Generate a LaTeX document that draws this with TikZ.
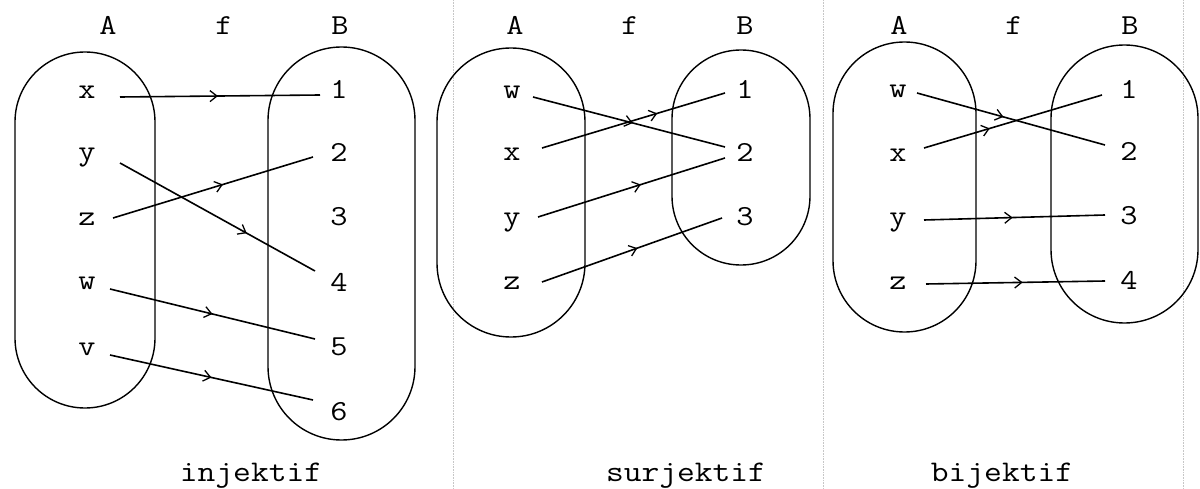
\documentclass[tikz,border=0pt]{standalone}
\usepackage{fontspec}
\newfontfamily\cour{Latin Modern Mono}[FakeStretch=1.15]
\usetikzlibrary{arrows.meta,decorations.markings}
\begin{document}
\begin{tikzpicture}[x=1pt,y=-1pt,
  lbl/.style={font=\cour\fontsize{29}{31}\selectfont, inner sep=0pt, text height=12pt, text depth=0pt},
  caption/.style={font=\cour\fontsize{30}{32}\selectfont, anchor=base, inner sep=0pt},
  setline/.style={line width=1.4pt},
  guide/.style={gray!45, densely dotted, line width=0.6pt},
  conn/.style={line width=1.6pt, postaction={decorate},
    decoration={markings, mark=at position #1 with {\arrow{Straight Barb[length=7pt,width=11pt,line width=1.3pt]}}}}
]
\useasboundingbox (0,0) rectangle (1200,489);

% faint page guides
\draw[guide] (453,0) -- (453,489);
\draw[guide] (823,0) -- (823,489);
\draw[guide] (1183,0) -- (1183,489);

% ---------- panel 1: injektif ----------
\draw[setline, rounded corners=69.9] (15,52) rectangle (155,408);
\draw[setline, rounded corners=73.4] (268,47) rectangle (415,440);
\node[lbl] (A1) at (108,29) {A};
\node[lbl] (f1) at (224,29) {f};
\node[lbl] (B1) at (340,29) {B};
\node[lbl] (p1x) at (87,93) {x};
\node[lbl] (p1y) at (87,155) {y};
\node[lbl] (p1z) at (87,220) {z};
\node[lbl] (p1w) at (87,284) {w};
\node[lbl] (p1v) at (87,349) {v};
\node[lbl] (p1n1) at (339,93) {1};
\node[lbl] (p1n2) at (339,156) {2};
\node[lbl] (p1n3) at (339,220) {3};
\node[lbl] (p1n4) at (339,285) {4};
\node[lbl] (p1n5) at (339,349) {5};
\node[lbl] (p1n6) at (339,414) {6};
\node[caption] (c1) at (251,481) {injektif};
\draw[conn=0.49] ([shift={(33,4)}]p1x.center) -- ([shift={(-19,2)}]p1n1.center);
\draw[conn=0.65] ([shift={(33,8)}]p1y.center) -- ([shift={(-24,-14)}]p1n4.center);
\draw[conn=0.55] ([shift={(26,-2)}]p1z.center) -- ([shift={(-26,1)}]p1n2.center);
\draw[conn=0.5] ([shift={(23,5)}]p1w.center) -- ([shift={(-24,-10)}]p1n5.center);
\draw[conn=0.5] ([shift={(23,6)}]p1v.center) -- ([shift={(-26,-14)}]p1n6.center);

% ---------- panel 2: surjektif ----------
\draw[setline, rounded corners=73.9] (437,48) rectangle (585,337);
\draw[setline, rounded corners=68.9] (672,50) rectangle (810,265);
\node[lbl] (A2) at (515,29) {A};
\node[lbl] (f2) at (630,29) {f};
\node[lbl] (B2) at (745,29) {B};
\node[lbl] (p2w) at (512,93) {w};
\node[lbl] (p2x) at (512,155) {x};
\node[lbl] (p2y) at (512,220) {y};
\node[lbl] (p2z) at (512,284) {z};
\node[lbl] (p2n1) at (745,93) {1};
\node[lbl] (p2n2) at (745,156) {2};
\node[lbl] (p2n3) at (745,220) {3};
\node[caption] (c2) at (686,481) {surjektif};
\draw[conn=0.52] ([shift={(21,4)}]p2w.center) -- ([shift={(-20,-9)}]p2n2.center);
\draw[conn=0.63] ([shift={(30,-7)}]p2x.center) -- ([shift={(-20,0)}]p2n1.center);
\draw[conn=0.55] ([shift={(26,-3)}]p2y.center) -- ([shift={(-20,2)}]p2n2.center);
\draw[conn=0.53] ([shift={(30,-2)}]p2z.center) -- ([shift={(-23,-2)}]p2n3.center);

% ---------- panel 3: bijektif ----------
\draw[setline, rounded corners=71.4] (833,42) rectangle (976,332);
\draw[setline, rounded corners=73.4] (1051,45) rectangle (1198,323);
\node[lbl] (A3) at (899,29) {A};
\node[lbl] (f3) at (1014,29) {f};
\node[lbl] (B3) at (1130,29) {B};
\node[lbl] (p3w) at (898,92) {w};
\node[lbl] (p3x) at (898,156) {x};
\node[lbl] (p3y) at (898,220) {y};
\node[lbl] (p3z) at (898,284) {z};
\node[lbl] (p3n1) at (1129,93) {1};
\node[lbl] (p3n2) at (1129,155) {2};
\node[lbl] (p3n3) at (1129,219) {3};
\node[lbl] (p3n4) at (1129,284) {4};
\node[caption] (c3) at (1002,481) {bijektif};
\draw[conn=0.46] ([shift={(19,1)}]p3w.center) -- ([shift={(-24,-10)}]p3n2.center);
\draw[conn=0.37] ([shift={(26,-8)}]p3x.center) -- ([shift={(-27,2)}]p3n1.center);
\draw[conn=0.49] ([shift={(26,0)}]p3y.center) -- ([shift={(-24,-4)}]p3n3.center);
\draw[conn=0.54] ([shift={(28,0)}]p3z.center) -- ([shift={(-24,-3)}]p3n4.center);
\end{tikzpicture}
\end{document}
